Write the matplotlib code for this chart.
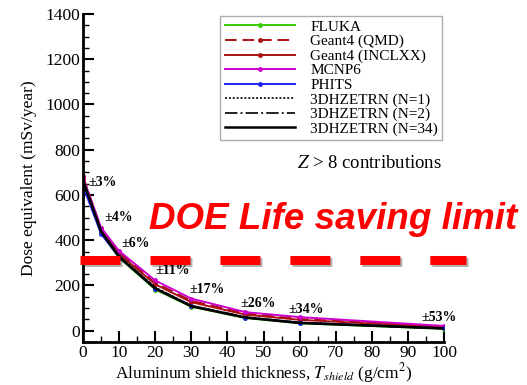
import matplotlib

matplotlib.use("Agg")
import matplotlib.pyplot as plt
from matplotlib.ticker import MultipleLocator
import matplotlib.patheffects as pe

# epaisseur de blindage (g/cm2)
thickness = [0, 5, 10, 20, 30, 45, 60, 100]

# equivalent de dose (mSv/an), contributions Z > 8
fluka = [660, 432, 322, 182, 106, 56, 33, 8]
geant4_qmd = [682, 452, 346, 212, 132, 76, 52, 18]
geant4_inclxx = [676, 446, 340, 205, 126, 71, 48, 15]
mcnp6 = [676, 456, 352, 222, 142, 82, 60, 21]
phits = [640, 428, 325, 186, 110, 58, 36, 10]
hze_n1 = [666, 442, 331, 191, 111, 60, 36, 10]
hze_n2 = [664, 440, 329, 189, 110, 59, 35, 10]
hze_n34 = [664, 439, 327, 187, 108, 58, 34, 10]

series_labels = ["FLUKA", "Geant4 (QMD)", "Geant4 (INCLXX)", "MCNP6", "PHITS",
                 "3DHZETRN (N=1)", "3DHZETRN (N=2)", "3DHZETRN (N=34)"]

# incertitudes affichees et leur position
unc_labels = ["±3%", "±4%", "±6%", "±11%", "±17%", "±26%", "±34%", "±53%"]
unc_x = [1.4, 6.0, 10.5, 20.0, 29.4, 43.5, 57.0, 93.6]
unc_y = [656, 500, 385, 266, 182, 120, 93, 58]

plt.rcParams["font.family"] = ["Liberation Serif", "DejaVu Serif"]
plt.rcParams["mathtext.fontset"] = "stix"

fig = plt.figure(figsize=(5.27, 3.85), dpi=100)
ax = fig.add_axes([0.1575, 0.1117, 0.685, 0.852])

styles = [
    dict(color="#33cc00", ls="-", marker="o"),
    dict(color="#aa1111", ls=(0, (6, 3)), marker="o"),
    dict(color="#aa1111", ls="-", marker="o"),
    dict(color="#cc00cc", ls="-", marker="o"),
    dict(color="#2222ee", ls="-", marker="o"),
    dict(color="#222222", ls=(0, (1, 1)), marker=None),
    dict(color="#222222", ls="-.", marker=None),
    dict(color="black", ls="-", marker=None),
]
data = [fluka, geant4_qmd, geant4_inclxx, mcnp6, phits, hze_n1, hze_n2, hze_n34]
for vals, lab, st in zip(data, series_labels, styles):
    ax.plot(thickness, vals, color=st["color"], ls=st["ls"], marker=st["marker"],
            ms=2.5, lw=1.4 if lab != "3DHZETRN (N=34)" else 1.8, label=lab)

for t, x, y in zip(unc_labels, unc_x, unc_y):
    ax.text(x, y, t, fontsize=10, fontweight="bold", ha="left", va="center")

ax.set_xlim(0, 100)
ax.set_ylim(-50, 1400)
ax.xaxis.set_major_locator(MultipleLocator(10))
ax.xaxis.set_minor_locator(MultipleLocator(5))
ax.yaxis.set_major_locator(MultipleLocator(200))
ax.yaxis.set_minor_locator(MultipleLocator(50))
ax.tick_params(which="major", direction="in", length=8, width=1.5,
               labelsize=12.5, pad=2)
ax.tick_params(which="minor", direction="in", length=4, width=1)
for s in ["top", "right"]:
    ax.spines[s].set_visible(False)
for s in ["left", "bottom"]:
    ax.spines[s].set_linewidth(2)

ax.set_xlabel(r"Aluminum shield thickness, $T_{shield}$ (g/cm$^2$)",
              fontsize=12.5, labelpad=0)
ax.set_ylabel("Dose equivalent (mSv/year)", fontsize=12.5, labelpad=6)

leg = ax.legend(loc="upper right", bbox_to_anchor=(1.0, 1.0), fontsize=11,
                handlelength=4.6, labelspacing=0.05, borderpad=0.3,
                borderaxespad=0.1, frameon=True, fancybox=False,
                edgecolor="#999999", handletextpad=1.0)
leg.get_frame().set_linewidth(1)

ax.text(99.5, 740, r"$Z$ > 8 contributions", fontsize=13.5,
        ha="right", va="center")

# limite DOE (annotation ajoutee)
fig.text(0.632, 0.4286, "DOE Life saving limit", family="Liberation Sans",
         fontsize=26.5, fontweight="bold", style="italic", color="#ff0000",
         ha="center", va="center")
shadow = [pe.SimpleLineShadow(offset=(1.5, -1.5), alpha=0.3), pe.Normal()]
fig.add_artist(plt.Line2D([0.152, 0.884], [0.3247, 0.3247], color="#ff0000",
                          lw=6.5, ls=(0, (4.43, 3.32)), solid_capstyle="butt",
                          dash_capstyle="butt", path_effects=shadow))

fig.savefig("out.png", dpi=100)
